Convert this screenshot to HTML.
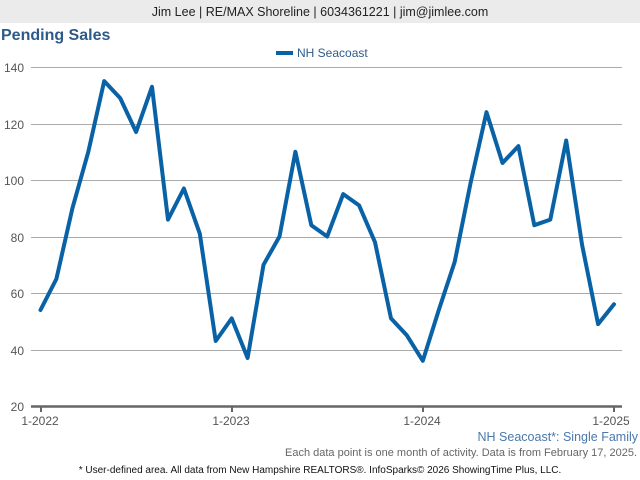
<!DOCTYPE html>
<html><head><meta charset="utf-8"><style>
html,body{margin:0;padding:0;background:#fff;width:640px;height:480px;overflow:hidden;font-family:"Liberation Sans",Arial,sans-serif;}
</style></head><body>
<svg width="640" height="480" xmlns="http://www.w3.org/2000/svg" font-family="Liberation Sans, Arial, sans-serif">
<rect x="0" y="0" width="640" height="23" fill="#ebebeb"/>
<text x="320" y="16" font-size="12.5" text-anchor="middle" fill="#222">Jim Lee | RE/MAX Shoreline | 6034361221 | jim@jimlee.com</text>
<text x="1" y="40" font-size="16" font-weight="bold" fill="#2e5a8a">Pending Sales</text>
<rect x="276" y="51" width="17" height="4" fill="#0a62a6"/>
<text x="297" y="57" font-size="12" fill="#2e5a8a">NH Seacoast</text>
<g stroke="#aaa" stroke-width="1">
<line x1="31" y1="67.5" x2="622" y2="67.5"/>
<line x1="31" y1="124.5" x2="622" y2="124.5"/>
<line x1="31" y1="180.5" x2="622" y2="180.5"/>
<line x1="31" y1="237.5" x2="622" y2="237.5"/>
<line x1="31" y1="293.5" x2="622" y2="293.5"/>
<line x1="31" y1="350.5" x2="622" y2="350.5"/>
</g>
<g font-size="12" fill="#555" text-anchor="end">
<text x="24" y="72">140</text><text x="24" y="129">120</text><text x="24" y="185">100</text>
<text x="24" y="242">80</text><text x="24" y="298">60</text><text x="24" y="355">40</text><text x="24" y="411">20</text>
</g>
<line x1="31" y1="406.5" x2="622" y2="406.5" stroke="#666" stroke-width="2.5"/>
<g stroke="#666" stroke-width="2">
<line x1="41" y1="406" x2="41" y2="412"/><line x1="232" y1="406" x2="232" y2="412"/>
<line x1="423" y1="406" x2="423" y2="412"/><line x1="614" y1="406" x2="614" y2="412"/>
</g>
<g font-size="12" fill="#555" text-anchor="middle">
<text x="40" y="425">1-2022</text><text x="231" y="425">1-2023</text><text x="422" y="425">1-2024</text><text x="611" y="425">1-2025</text>
</g>
<polyline fill="none" stroke="#0a62a6" stroke-width="4" stroke-linejoin="round" stroke-linecap="round" points="40.5,310 56.4,278.9 72.4,208.3 88.3,151.8 104.2,81.1 120.2,98.1 136.1,132 152,86.8 168,219.6 183.9,188.5 199.8,233.7 215.7,341 231.7,318.4 247.6,358 263.5,264.8 279.5,236.5 295.4,151.8 311.3,225.2 327.2,236.5 343.2,194.1 359.1,205.4 375,242.2 391,318.4 406.9,335.4 422.8,360.8 438.8,310 454.7,261.9 470.6,182.8 486.5,112.2 502.5,163 518.4,146.1 534.3,225.2 550.3,219.6 566.2,140.5 582.1,245 598.1,324.1 614,304.3"/>
<text x="638" y="441" font-size="12.5" fill="#4a78ab" text-anchor="end">NH Seacoast*: Single Family</text>
<text x="637" y="456" font-size="11" fill="#666" text-anchor="end">Each data point is one month of activity. Data is from February 17, 2025.</text>
<text x="320" y="473" font-size="10" fill="#111" text-anchor="middle">* User-defined area. All data from New Hampshire REALTORS®. InfoSparks© 2026 ShowingTime Plus, LLC.</text>
</svg>
</body></html>
